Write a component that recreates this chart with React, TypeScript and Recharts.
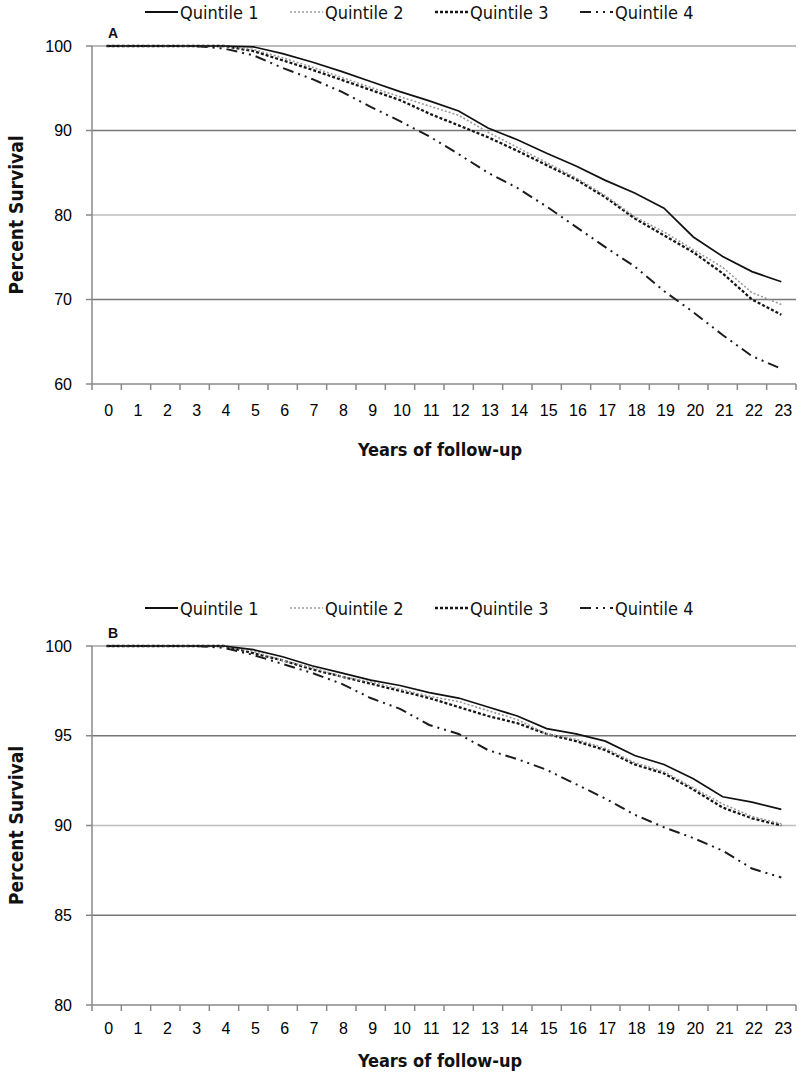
import React from 'react';
import { LineChart, Line, XAxis, YAxis, ReferenceLine, Legend, Label } from 'recharts';

const years = [0, 1, 2, 3, 4, 5, 6, 7, 8, 9, 10, 11, 12, 13, 14, 15, 16, 17, 18, 19, 20, 21, 22, 23];

const seriesNames = ['Quintile 1', 'Quintile 2', 'Quintile 3', 'Quintile 4'];

// Panel A
const aQ1 = [100, 100, 100, 100, 100, 99.9, 99.1, 98.1, 97.0, 95.8, 94.6, 93.5, 92.3, 90.3, 88.9, 87.3, 85.8, 84.1, 82.6, 80.8, 77.4, 75.1, 73.3, 72.1];
const aQ2 = [100, 100, 100, 100, 100, 99.6, 98.6, 97.5, 96.3, 95.1, 94.0, 92.9, 91.8, 89.8, 88.0, 86.2, 84.4, 82.3, 79.8, 78.0, 75.9, 73.8, 70.8, 69.4];
const aQ3 = [100, 100, 100, 100, 100, 99.4, 98.3, 97.2, 96.0, 94.8, 93.6, 92.0, 90.6, 89.2, 87.6, 85.9, 84.2, 82.1, 79.6, 77.6, 75.6, 73.1, 70.0, 68.2];
const aQ4 = [100, 100, 100, 100, 99.7, 98.9, 97.4, 96.1, 94.6, 92.8, 91.1, 89.3, 87.2, 85.0, 83.2, 81.0, 78.6, 76.2, 73.9, 71.0, 68.5, 65.8, 63.3, 61.8];
const aTicks = [60, 70, 80, 90, 100];

// Panel B
const bQ1 = [100, 100, 100, 100, 100, 99.8, 99.4, 98.9, 98.5, 98.1, 97.8, 97.4, 97.1, 96.6, 96.1, 95.4, 95.1, 94.7, 93.9, 93.4, 92.6, 91.6, 91.3, 90.9];
const bQ2 = [100, 100, 100, 100, 100, 99.7, 99.2, 98.8, 98.3, 98.0, 97.6, 97.2, 96.9, 96.4, 95.9, 95.1, 94.8, 94.3, 93.5, 93.0, 92.1, 91.2, 90.5, 90.1];
const bQ3 = [100, 100, 100, 100, 100, 99.6, 99.2, 98.7, 98.3, 97.9, 97.5, 97.1, 96.6, 96.1, 95.7, 95.1, 94.7, 94.2, 93.4, 92.9, 92.0, 91.0, 90.4, 90.0];
const bQ4 = [100, 100, 100, 100, 99.9, 99.5, 99.0, 98.5, 97.9, 97.1, 96.5, 95.6, 95.1, 94.2, 93.7, 93.1, 92.3, 91.5, 90.6, 89.9, 89.3, 88.6, 87.6, 87.1];
const bTicks = [80, 85, 90, 95, 100];

const KEYS = ['q1', 'q2', 'q3', 'q4'];
const STYLES = [
  { stroke: '#111', width: 1.7, dash: undefined as string | undefined },
  { stroke: '#9a9a9a', width: 1.6, dash: '2 2' },
  { stroke: '#161616', width: 2.3, dash: '3 2' },
  { stroke: '#1c1c1c', width: 2.0, dash: '11 5 2 5 2 5' },
];

const NARROW = "'Liberation Sans Narrow', 'DejaVu Sans Condensed', 'Arial Narrow', sans-serif";
const SANS = "'Liberation Sans', Arial, sans-serif";

const PLOT_LEFT = 92;
const PLOT_W = 704;
const BW = PLOT_W / years.length;

function buildData(s: number[][]) {
  return years.map((year, i) => ({ year, q1: s[0][i], q2: s[1][i], q3: s[2][i], q4: s[3][i] }));
}

const LegendContent = () => (
  <svg width={800} height={24} style={{ display: 'block' }}>
    {seriesNames.map((name, i) => {
      const x0 = 145 + i * 145;
      const st = STYLES[i];
      return (
        <g key={name}>
          <line x1={x0} x2={x0 + 33} y1={12} y2={12} stroke={st.stroke} strokeWidth={i === 0 ? 2.2 : st.width} strokeDasharray={st.dash} />
          <text x={x0 + 35} y={12} dominantBaseline="central" fontFamily={NARROW} fontSize={18} fill="#111">{name}</text>
        </g>
      );
    })}
  </svg>
);

const XTick = (props: any) => {
  const { x, y, payload } = props;
  const bx = x - BW / 2;
  return (
    <g>
      <line x1={bx} x2={bx} y1={y} y2={y + 6} stroke="#888" strokeWidth={1.5} />
      {payload.value === years[years.length - 1] ? (
        <line x1={x + BW / 2} x2={x + BW / 2} y1={y} y2={y + 6} stroke="#888" strokeWidth={1.5} />
      ) : null}
      <text x={x + 2} y={y + props.labelDy} textAnchor="middle" dominantBaseline="central" fontFamily={SANS} fontSize={16} fill="#000">
        {payload.value}
      </text>
    </g>
  );
};

const gridColor = (idxFromTop: number) => (idxFromTop === 0 ? '#a5a5a5' : idxFromTop % 2 === 1 ? '#777' : '#bdbdbd');

type PanelProps = {
  series: number[][];
  ticks: number[];
  letter: string;
  height: number;
  top: number;
  xAxisHeight: number;
  labelDy: number;
  titleOffset: number;
};

const Panel = ({ series, ticks, letter, height, top, xAxisHeight, labelDy, titleOffset }: PanelProps) => {
  const data = buildData(series);
  const desc = [...ticks].sort((a, b) => b - a);
  return (
    <LineChart width={800} height={height} data={data} margin={{ top, right: 4, left: 0, bottom: 0 }}>
      <Legend verticalAlign="top" align="left" height={24} content={<LegendContent />} wrapperStyle={{ top: 0, left: 0, width: 800 }} />
      {desc.slice(0, desc.length - 1).map((v, i) => (
        <ReferenceLine key={v} y={v} stroke={gridColor(i)} strokeWidth={1.6} ifOverflow="visible" />
      ))}
      <XAxis
        dataKey="year"
        type="number"
        domain={[-0.5, years.length - 0.5]}
        ticks={years}
        interval={0}
        allowDataOverflow
        height={xAxisHeight}
        stroke="#888"
        strokeWidth={1.5}
        tickLine={false}
        tickSize={0}
        tickMargin={0}
        tick={<XTick labelDy={labelDy} />}
      >
        <Label
          position="insideBottom"
          offset={titleOffset}
          content={(p: any) => {
            const vb = p.viewBox;
            return (
              <text x={vb.x + vb.width / 2 - 4} y={vb.y + vb.height - titleOffset} textAnchor="middle" fontFamily={NARROW} fontWeight="bold" fontSize={18} fill="#111">
                Years of follow-up
              </text>
            );
          }}
        />
      </XAxis>
      <YAxis
        type="number"
        domain={[ticks[0], ticks[ticks.length - 1]]}
        ticks={ticks}
        interval={0}
        width={PLOT_LEFT}
        stroke="#888"
        strokeWidth={1.5}
        tickSize={6}
        tickMargin={14}
        tick={{ fontFamily: SANS, fontSize: 16, fill: '#000' }}
      >
        <Label
          content={(p: any) => {
            const vb = p.viewBox;
            const cy = vb.y + vb.height / 2;
            return (
              <g>
                <text x={16} y={cy} transform={`rotate(-90, 16, ${cy})`} textAnchor="middle" dominantBaseline="central" fontFamily={NARROW} fontWeight="bold" fontSize={19} fill="#111">
                  Percent Survival
                </text>
                <text x={108} y={vb.y - 8} fontFamily={SANS} fontWeight="bold" fontSize={14} fill="#111">
                  {letter}
                </text>
              </g>
            );
          }}
        />
      </YAxis>
      {[3, 2, 1, 0].map((i) => (
        <Line
          key={KEYS[i]}
          type="linear"
          dataKey={KEYS[i]}
          name={seriesNames[i]}
          stroke={STYLES[i].stroke}
          strokeWidth={STYLES[i].width}
          strokeDasharray={STYLES[i].dash}
          dot={false}
          activeDot={false}
          isAnimationActive={false}
        />
      ))}
    </LineChart>
  );
};

export default function App() {
  return (
    <div style={{ position: 'absolute', left: 0, top: 0, width: 800, height: 1073, background: '#fff' }}>
      <div style={{ position: 'absolute', left: 0, top: 0 }}>
        <Panel series={[aQ1, aQ2, aQ3, aQ4]} ticks={aTicks} letter="A" height={470} top={22} xAxisHeight={86} labelDy={26} titleOffset={14} />
      </div>
      <div style={{ position: 'absolute', left: 0, top: 596 }}>
        <Panel series={[bQ1, bQ2, bQ3, bQ4]} ticks={bTicks} letter="B" height={477} top={26} xAxisHeight={68} labelDy={23} titleOffset={6} />
      </div>
    </div>
  );
}
